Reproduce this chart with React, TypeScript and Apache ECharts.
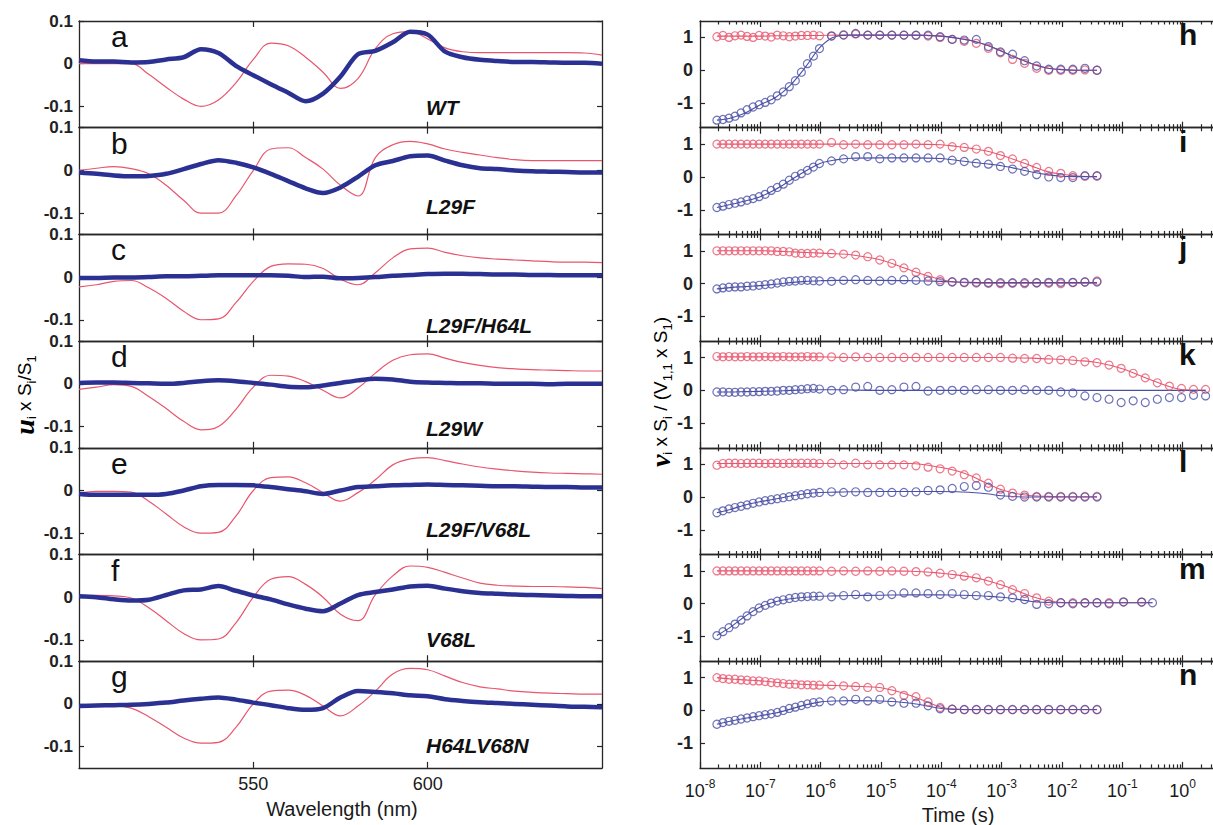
import React, { useEffect, useRef } from "react";
import * as echarts from "echarts";

// ---------------- DATA ----------------
const wavelengths = [500, 505, 510, 515, 520, 525, 530, 535, 540, 545, 550, 555, 560, 565, 570, 575, 580, 585, 590, 595, 600, 605, 610, 615, 620, 625, 630, 635, 640, 645, 650];
const wavelengthTicks = [550, 600];
const uTicks = [-0.1, 0, 0.1];
const leftLetters = ["a", "b", "c", "d", "e", "f", "g"];
const mutants = ["WT", "L29F", "L29F/H64L", "L29W", "L29F/V68L", "V68L", "H64LV68N"];

const redA = [0, 0, 0, 0, -0.025, -0.055, -0.083, -0.1, -0.085, -0.045, 0.01, 0.048, 0.042, 0.015, -0.02, -0.058, -0.035, 0.035, 0.07, 0.075, 0.058, 0.037, 0.028, 0.026, 0.026, 0.026, 0.026, 0.026, 0.026, 0.025, 0.02];
const blueA = [0.008, 0.005, 0.005, 0.003, 0.004, 0.01, 0.015, 0.034, 0.025, -0.005, -0.027, -0.048, -0.068, -0.088, -0.07, -0.03, 0.022, 0.03, 0.05, 0.075, 0.068, 0.028, 0.015, 0.009, 0.006, 0.004, 0.004, 0.003, 0.002, 0.002, 0.0];
const redB = [0, 0.005, 0.009, 0.004, -0.008, -0.035, -0.07, -0.1, -0.1, -0.06, 0.0, 0.05, 0.053, 0.03, 0.003, -0.035, -0.06, 0.03, 0.06, 0.068, 0.062, 0.05, 0.042, 0.036, 0.03, 0.025, 0.023, 0.023, 0.023, 0.023, 0.023];
const blueB = [-0.005, -0.008, -0.012, -0.014, -0.013, -0.008, 0.003, 0.015, 0.024, 0.018, 0.007, -0.008, -0.025, -0.042, -0.053, -0.04, -0.015, 0.012, 0.022, 0.033, 0.035, 0.023, 0.012, 0.005, 0.003, 0.0, -0.002, -0.003, -0.004, -0.005, -0.005];
const redC = [-0.023, -0.018, -0.01, -0.008, -0.025, -0.05, -0.08, -0.1, -0.098, -0.06, -0.01, 0.025, 0.031, 0.03, 0.02, -0.005, -0.018, 0.01, 0.045, 0.066, 0.068, 0.058, 0.05, 0.045, 0.042, 0.04, 0.038, 0.036, 0.035, 0.035, 0.034];
const blueC = [-0.002, -0.002, -0.001, -0.001, 0, 0.002, 0.002, 0.003, 0.004, 0.004, 0.004, 0.004, 0.003, 0, 0.001, -0.003, -0.002, 0, 0.003, 0.005, 0.007, 0.008, 0.008, 0.007, 0.006, 0.006, 0.005, 0.005, 0.004, 0.004, 0.004];
const redD = [-0.013, -0.008, -0.002, -0.006, -0.03, -0.058, -0.088, -0.108, -0.1, -0.06, -0.008, 0.02, 0.018, 0.005, -0.015, -0.033, -0.01, 0.025, 0.055, 0.068, 0.07, 0.06, 0.05, 0.043, 0.038, 0.035, 0.033, 0.032, 0.031, 0.03, 0.03];
const blueD = [0.002, 0.003, 0.003, 0.002, 0.001, 0, 0.002, 0.006, 0.008, 0.006, 0.002, -0.002, -0.007, -0.008, -0.004, 0.002, 0.008, 0.012, 0.01, 0.005, 0.003, 0.002, 0.001, 0.001, 0, 0, 0, -0.001, 0, 0, 0];
const redE = [-0.006, -0.002, -0.002, -0.004, -0.025, -0.055, -0.085, -0.1, -0.098, -0.06, 0, 0.03, 0.032, 0.018, -0.005, -0.025, -0.005, 0.025, 0.06, 0.074, 0.077, 0.07, 0.062, 0.055, 0.05, 0.046, 0.043, 0.041, 0.04, 0.039, 0.038];
const blueE = [-0.008, -0.01, -0.01, -0.01, -0.01, -0.008, 0, 0.01, 0.013, 0.013, 0.012, 0.008, 0.003, -0.002, -0.008, 0, 0.008, 0.01, 0.012, 0.013, 0.014, 0.013, 0.012, 0.011, 0.01, 0.01, 0.009, 0.008, 0.008, 0.007, 0.007];
const redF = [0.003, 0.004, 0.003, -0.002, -0.025, -0.055, -0.085, -0.1, -0.098, -0.06, 0, 0.042, 0.048, 0.03, 0, -0.04, -0.055, 0.006, 0.05, 0.073, 0.07, 0.058, 0.045, 0.033, 0.028, 0.026, 0.025, 0.025, 0.024, 0.023, 0.02];
const blueF = [0.002, 0, -0.005, -0.008, -0.006, 0.005, 0.016, 0.018, 0.026, 0.015, 0.004, -0.005, -0.017, -0.027, -0.033, -0.015, 0.005, 0.012, 0.018, 0.025, 0.027, 0.02, 0.014, 0.01, 0.008, 0.006, 0.005, 0.004, 0.003, 0.002, 0.002];
const redG = [-0.005, -0.005, -0.004, -0.01, -0.03, -0.055, -0.08, -0.092, -0.09, -0.055, 0, 0.03, 0.032, 0.02, -0.005, -0.028, -0.005, 0.03, 0.07, 0.083, 0.08, 0.065, 0.05, 0.04, 0.035, 0.03, 0.027, 0.025, 0.024, 0.023, 0.023];
const blueG = [-0.005, -0.004, -0.003, -0.002, 0, 0.003, 0.008, 0.012, 0.015, 0.01, 0.003, -0.003, -0.01, -0.014, -0.01, 0.015, 0.03, 0.028, 0.025, 0.02, 0.018, 0.011, 0.007, 0.004, 0.002, 0, -0.002, -0.004, -0.006, -0.007, -0.008];

// time values are log10(t / s)
const logTime = [-7.72, -7.62, -7.52, -7.42, -7.32, -7.22, -7.12, -7.02, -6.92, -6.82, -6.72, -6.62, -6.52, -6.42, -6.32, -6.22, -6.12, -6.02, -5.82, -5.62, -5.42, -5.22, -5.02, -4.82, -4.62, -4.42, -4.22, -4.02, -3.82, -3.62, -3.42, -3.22, -3.02, -2.82, -2.62, -2.42, -2.22, -2.02, -1.82, -1.62, -1.42];
const logTimeK = [...logTime, -1.22, -1.02, -0.82, -0.62, -0.42, -0.22, -0.02, 0.18, 0.38];
const logTimeM = [...logTime, -1.22, -0.98, -0.68, -0.5];
const fitTime = [-7.72, -7.5, -7.25, -7, -6.75, -6.5, -6.25, -6, -5.75, -5.5, -5, -4.5, -4, -3.75, -3.5, -3.25, -3, -2.75, -2.5, -2.25, -2, -1.75, -1.42];
const fitTimeK = [...fitTime, -1.0, -0.5, 0.0, 0.38];
const fitTimeM = [...fitTime, -1.0, -0.5];
const timeDecades = [-8, -7, -6, -5, -4, -3, -2, -1, 0, 1];
const timeLabelDecades = [-8, -7, -6, -5, -4, -3, -2, -1, 0];
const vTicks = [-1, 0, 1];
const rightLetters = ["h", "i", "j", "k", "l", "m", "n"];

const hRed = [1.02, 1.06, 1.0, 1.05, 1.07, 1.03, 1.0, 1.06, 1.04, 1.01, 1.07, 1.05, 1.02, 1.04, 1.06, 1.06, 1.07, 1.05, 1.05, 1.08, 1.1, 1.07, 1.07, 1.07, 1.07, 1.06, 1.04, 1.0, 0.94, 0.88, 0.82, 0.67, 0.53, 0.33, 0.21, 0.06, 0.0, 0.0, 0.0, 0.01, 0.0];
const hBlue = [-1.52, -1.5, -1.46, -1.4, -1.3, -1.2, -1.12, -1.05, -0.98, -0.9, -0.78, -0.66, -0.5, -0.32, -0.06, 0.2, 0.43, 0.66, 1.04, 1.07, 1.12, 1.07, 1.07, 1.07, 1.07, 1.07, 1.07, 1.02, 0.94, 0.92, 0.94, 0.72, 0.56, 0.49, 0.29, 0.13, 0.03, 0.03, 0.03, 0.06, 0.0];
const hRedFit = [1.04, 1.04, 1.04, 1.04, 1.05, 1.05, 1.06, 1.06, 1.07, 1.07, 1.07, 1.07, 1.04, 0.98, 0.9, 0.77, 0.58, 0.38, 0.2, 0.07, 0.02, 0, 0];
const hBlueFit = [-1.52, -1.46, -1.3, -1.05, -0.83, -0.45, 0.1, 0.72, 1.03, 1.07, 1.07, 1.07, 1.04, 0.98, 0.9, 0.77, 0.58, 0.38, 0.2, 0.07, 0.02, 0, 0];

const iRed = [1, 1, 1, 1, 1, 1, 1, 1, 1, 1, 1, 1, 1, 1, 1, 1, 1, 1, 1.05, 0.98, 1.0, 0.98, 0.98, 0.98, 0.98, 1.0, 0.98, 1.0, 0.92, 0.9, 0.85, 0.78, 0.65, 0.55, 0.41, 0.29, 0.17, 0.11, 0.04, 0.02, 0.02];
const iBlue = [-0.93, -0.89, -0.84, -0.8, -0.76, -0.71, -0.66, -0.6, -0.53, -0.41, -0.32, -0.22, -0.1, 0.02, 0.1, 0.2, 0.3, 0.41, 0.49, 0.55, 0.62, 0.62, 0.55, 0.58, 0.58, 0.58, 0.58, 0.58, 0.51, 0.47, 0.42, 0.39, 0.32, 0.24, 0.17, 0.07, 0.0, -0.02, -0.02, 0.04, 0.04];
const iRedFit = [1, 1, 1, 1, 1, 1, 1, 1, 1, 1, 1, 1, 0.98, 0.93, 0.87, 0.79, 0.66, 0.5, 0.33, 0.17, 0.08, 0.03, 0.01];
const iBlueFit = [-0.93, -0.84, -0.73, -0.6, -0.38, -0.1, 0.18, 0.42, 0.52, 0.57, 0.58, 0.58, 0.56, 0.51, 0.45, 0.4, 0.34, 0.25, 0.15, 0.07, 0.02, 0.01, 0.01];

const jRed = [1.0, 1.0, 1.0, 1.0, 1.0, 1.0, 1.0, 1.0, 1.0, 1.0, 0.98, 0.98, 0.97, 0.93, 0.92, 0.92, 0.93, 0.93, 0.92, 0.9, 0.87, 0.82, 0.72, 0.62, 0.48, 0.35, 0.22, 0.12, 0.06, 0.03, 0.02, 0.01, 0.0, 0.01, 0.0, 0.02, 0.01, 0.0, 0.03, 0.05, 0.08];
const jBlue = [-0.16, -0.13, -0.11, -0.1, -0.1, -0.08, -0.07, -0.05, -0.03, -0.01, 0.02, 0.05, 0.07, 0.08, 0.1, 0.1, 0.09, 0.08, 0.07, 0.1, 0.12, 0.1, 0.08, 0.1, 0.12, 0.1, 0.08, 0.06, 0.05, 0.04, 0.04, 0.03, 0.03, 0.03, 0.03, 0.03, 0.04, 0.04, 0.04, 0.05, 0.05];
const jRedFit = [1, 1, 1, 1, 0.99, 0.97, 0.95, 0.93, 0.91, 0.88, 0.72, 0.4, 0.12, 0.05, 0.02, 0.01, 0.01, 0.01, 0.01, 0.01, 0.01, 0.01, 0.01];
const jBlueFit = [-0.16, -0.12, -0.09, -0.06, -0.02, 0.03, 0.07, 0.09, 0.1, 0.1, 0.1, 0.09, 0.07, 0.05, 0.04, 0.03, 0.03, 0.03, 0.03, 0.03, 0.03, 0.03, 0.03];

const kRed = [1.03, 1.02, 1.03, 1.02, 1.02, 1.03, 1.02, 1.02, 1.03, 1.02, 1.02, 1.03, 1.02, 1.02, 1.02, 1.03, 1.02, 1.02, 1.02, 1.0, 1.02, 1.0, 1.0, 1.0, 1.0, 1.0, 1.0, 1.0, 1.0, 1.0, 1.0, 1.0, 1.0, 0.98, 0.97, 0.97, 0.94, 0.93, 0.91, 0.87, 0.84, 0.77, 0.67, 0.52, 0.38, 0.23, 0.13, 0.06, 0.03, 0.03];
const kBlue = [-0.05, -0.05, -0.06, -0.06, -0.05, -0.05, -0.04, -0.04, -0.03, -0.03, -0.02, 0.0, 0.0, 0.02, 0.03, 0.05, 0.06, 0.04, 0.0, 0.02, 0.1, 0.12, 0.0, 0.02, 0.1, 0.12, -0.02, 0.0, 0.0, 0.0, 0.02, 0.02, 0.0, 0.0, 0.02, 0.0, 0.0, -0.05, -0.08, -0.17, -0.22, -0.27, -0.37, -0.32, -0.37, -0.27, -0.22, -0.22, -0.15, -0.17];
const kRedFit = [1.02, 1.02, 1.02, 1.02, 1.02, 1.02, 1.02, 1.02, 1.01, 1.0, 1.0, 1.0, 1.0, 1.0, 1.0, 1.0, 1.0, 0.99, 0.98, 0.96, 0.94, 0.91, 0.85, 0.66, 0.3, 0.02, 0.0];
const kBlueFit = [-0.05, -0.05, -0.04, -0.03, -0.02, 0.0, 0.01, 0.02, 0.02, 0.01, 0, 0, 0, 0, 0, 0, 0, 0, 0, 0, 0, 0, 0, 0, 0, 0, 0];

const lRed = [0.97, 1.02, 1.03, 1.03, 1.02, 1.03, 1.03, 1.03, 1.02, 1.03, 1.03, 1.02, 1.03, 1.03, 1.03, 1.03, 1.03, 1.02, 1.03, 0.98, 1.03, 0.98, 0.98, 0.98, 0.98, 0.95, 0.91, 0.86, 0.79, 0.68, 0.58, 0.42, 0.24, 0.12, 0.06, 0.02, 0.02, 0.02, 0.02, 0.02, 0.02];
const lBlue = [-0.48, -0.42, -0.36, -0.32, -0.28, -0.24, -0.19, -0.15, -0.11, -0.08, -0.05, -0.02, 0.01, 0.04, 0.07, 0.1, 0.12, 0.14, 0.16, 0.14, 0.16, 0.14, 0.14, 0.14, 0.14, 0.16, 0.2, 0.22, 0.26, 0.32, 0.35, 0.3, 0.06, 0.02, 0, 0, 0, 0, 0, 0, 0];
const lRedFit = [1.02, 1.02, 1.02, 1.02, 1.02, 1.02, 1.02, 1.02, 1.02, 1.02, 1.02, 1.02, 0.9, 0.8, 0.64, 0.42, 0.22, 0.1, 0.04, 0.02, 0.01, 0.01, 0.01];
const lBlueFit = [-0.48, -0.38, -0.24, -0.14, -0.06, 0.03, 0.1, 0.14, 0.15, 0.16, 0.17, 0.17, 0.17, 0.16, 0.14, 0.1, 0.04, 0.01, 0, 0, 0, 0, 0];

const mRed = [1, 1, 1, 1, 1, 1, 1, 1, 1, 1, 1, 1, 1, 1, 1, 1, 1, 1, 0.99, 1.0, 0.99, 1.0, 0.99, 1.0, 0.99, 0.98, 0.97, 0.93, 0.89, 0.84, 0.79, 0.69, 0.58, 0.43, 0.31, 0.18, 0.08, 0.03, 0.03, 0.02, 0.03, 0.03, 0.06, 0.05, null];
const mBlue = [-0.97, -0.85, -0.73, -0.62, -0.5, -0.37, -0.24, -0.13, -0.05, 0.02, 0.08, 0.12, 0.16, 0.19, 0.21, 0.22, 0.23, 0.23, 0.21, 0.25, 0.28, 0.21, 0.25, 0.28, 0.33, 0.33, 0.31, 0.28, 0.31, 0.28, 0.25, 0.25, 0.21, 0.18, 0.13, -0.02, 0.0, 0.03, 0.0, 0.03, 0.03, 0.0, 0.05, 0.05, 0.03];
const mRedFit = [1, 1, 1, 1, 1, 1, 1, 1, 1, 1, 1, 0.99, 0.93, 0.88, 0.81, 0.71, 0.57, 0.4, 0.22, 0.1, 0.04, 0.03, 0.03, 0.03, 0.03];
const mBlueFit = [-0.97, -0.72, -0.38, -0.1, 0.06, 0.15, 0.2, 0.23, 0.24, 0.25, 0.26, 0.27, 0.27, 0.26, 0.25, 0.23, 0.2, 0.14, 0.07, 0.04, 0.03, 0.03, 0.03, 0.03, 0.03];

const nRed = [1.0, 0.97, 0.95, 0.95, 0.93, 0.92, 0.9, 0.9, 0.88, 0.85, 0.84, 0.82, 0.8, 0.8, 0.78, 0.78, 0.77, 0.77, 0.77, 0.75, 0.73, 0.7, 0.7, 0.6, 0.46, 0.42, 0.26, 0.09, 0.04, 0.02, 0.02, 0.02, 0.02, 0.02, 0.02, 0.02, 0.02, 0.02, 0.02, 0.02, 0.02];
const nBlue = [-0.42, -0.37, -0.33, -0.3, -0.26, -0.23, -0.19, -0.16, -0.13, -0.1, -0.06, 0.0, 0.06, 0.1, 0.15, 0.2, 0.24, 0.26, 0.29, 0.29, 0.34, 0.29, 0.34, 0.26, 0.22, 0.22, 0.14, 0.05, 0.04, 0.03, 0.03, 0.03, 0.03, 0.03, 0.03, 0.03, 0.03, 0.03, 0.03, 0.03, 0.03];
const nRedFit = [1.0, 0.96, 0.93, 0.9, 0.86, 0.82, 0.79, 0.77, 0.76, 0.74, 0.69, 0.45, 0.1, 0.04, 0.02, 0.02, 0.02, 0.02, 0.02, 0.02, 0.02, 0.02, 0.02];
const nBlueFit = [-0.42, -0.33, -0.24, -0.16, -0.08, 0.04, 0.17, 0.26, 0.29, 0.3, 0.29, 0.22, 0.06, 0.03, 0.03, 0.03, 0.03, 0.03, 0.03, 0.03, 0.03, 0.03, 0.03];

const leftPanels = [
  { red: redA, blue: blueA }, { red: redB, blue: blueB }, { red: redC, blue: blueC }, { red: redD, blue: blueD },
  { red: redE, blue: blueE }, { red: redF, blue: blueF }, { red: redG, blue: blueG },
];
const rightPanels = [
  { t: logTime, red: hRed, blue: hBlue, ft: fitTime, redFit: hRedFit, blueFit: hBlueFit },
  { t: logTime, red: iRed, blue: iBlue, ft: fitTime, redFit: iRedFit, blueFit: iBlueFit },
  { t: logTime, red: jRed, blue: jBlue, ft: fitTime, redFit: jRedFit, blueFit: jBlueFit },
  { t: logTimeK, red: kRed, blue: kBlue, ft: fitTimeK, redFit: kRedFit, blueFit: kBlueFit },
  { t: logTime, red: lRed, blue: lBlue, ft: fitTime, redFit: lRedFit, blueFit: lBlueFit },
  { t: logTimeM, red: mRed, blue: mBlue, ft: fitTimeM, redFit: mRedFit, blueFit: mBlueFit },
  { t: logTime, red: nRed, blue: nBlue, ft: fitTime, redFit: nRedFit, blueFit: nBlueFit },
];

// ---------------- LAYOUT / STYLE ----------------
const FONT = "'Liberation Sans', Arial, Helvetica, sans-serif";
const SERIF = "'Liberation Serif', 'Times New Roman', serif";
const AXIS = "#262626";
const RED = "#e8566e";
const BLUE_THICK = "#2b3192";
const BLUE_PT = "#4a4fa6";
const PANEL_TOP = 21;
const PANEL_H = 106.7;
const LEFT_X = 79;
const LEFT_W = 523;
const RIGHT_X = 700;
const RIGHT_W = 543;
const mutantLabelDy = [86, 79, 91, 87, 82, 85, 84];

function buildOption() {
  const grid: any[] = [];
  const xAxis: any[] = [];
  const yAxis: any[] = [];
  const series: any[] = [];
  const graphic: any[] = [];
  const topOf = (i: number) => PANEL_TOP + i * PANEL_H;
  const line = { show: true, onZero: false, lineStyle: { color: AXIS, width: 1.3 } };
  const noLine = { show: false, onZero: false };
  const tickStyle = { color: AXIS, width: 1.2 };

  const minorTicks: number[] = [];
  for (let d = -8; d <= 0; d++) {
    for (let k = 2; k <= 9; k++) minorTicks.push(d + Math.log10(k));
  }

  leftPanels.forEach((p, i) => {
    const gi = grid.length;
    grid.push({ left: LEFT_X, top: topOf(i), width: LEFT_W, height: PANEL_H, outerBoundsMode: "none", containLabel: false });
    const last = i === leftPanels.length - 1;
    const xb = xAxis.length;
    xAxis.push({
      type: "value", gridIndex: gi, position: "bottom", min: 500, max: 650,
      axisLine: line,
      axisTick: { show: true, inside: true, length: 6, customValues: wavelengthTicks, lineStyle: tickStyle },
      axisLabel: { show: last, customValues: wavelengthTicks, fontSize: 18, color: "#1a1a1a", margin: 7, fontFamily: FONT },
      splitLine: { show: false },
    });
    xAxis.push({
      type: "value", gridIndex: gi, position: "top", min: 500, max: 650,
      axisLine: line,
      axisTick: { show: true, inside: true, length: 6, customValues: wavelengthTicks, lineStyle: tickStyle },
      axisLabel: { show: false },
      splitLine: { show: false },
    });
    const yl = yAxis.length;
    yAxis.push({
      type: "value", gridIndex: gi, position: "left", min: -0.15, max: 0.1,
      axisLine: line,
      axisTick: { show: true, inside: true, length: 5, customValues: uTicks, lineStyle: tickStyle },
      axisLabel: {
        customValues: uTicks, fontSize: 17, fontWeight: "bold", color: "#222", margin: 6, fontFamily: FONT,
        formatter: (v: number) => (v === 0 ? "0" : String(v)),
      },
      splitLine: { show: false },
    });
    yAxis.push({
      type: "value", gridIndex: gi, position: "right", min: -0.15, max: 0.1,
      axisLine: line,
      axisTick: { show: true, inside: true, length: 5, customValues: uTicks, lineStyle: tickStyle },
      axisLabel: { show: false },
      splitLine: { show: false },
    });
    series.push({
      type: "line", xAxisIndex: xb, yAxisIndex: yl, symbol: "none", smooth: 0.4, z: 2,
      lineStyle: { color: RED, width: 1.2 },
      data: wavelengths.map((w, k) => [w, p.red[k]]),
    });
    series.push({
      type: "line", xAxisIndex: xb, yAxisIndex: yl, symbol: "none", smooth: 0.3, z: 3,
      lineStyle: { color: BLUE_THICK, width: 4.5 },
      data: wavelengths.map((w, k) => [w, p.blue[k]]),
    });
    graphic.push({
      type: "text", x: 111, y: topOf(i) + 15.5, z: 10,
      style: { text: leftLetters[i], fontSize: 30, fontFamily: FONT, fill: "#111", align: "left", verticalAlign: "middle" },
    });
    graphic.push({
      type: "text", x: 426, y: topOf(i) + mutantLabelDy[i], z: 10,
      style: { text: mutants[i], fontSize: 21, fontWeight: "bold", fontStyle: "italic", fontFamily: FONT, fill: "#111", align: "left", verticalAlign: "middle" },
    });
  });

  rightPanels.forEach((p, i) => {
    const gi = grid.length;
    grid.push({ left: RIGHT_X, top: topOf(i), width: RIGHT_W, height: PANEL_H, outerBoundsMode: "none", containLabel: false });
    const last = i === rightPanels.length - 1;
    const xb = xAxis.length;
    xAxis.push({
      type: "value", gridIndex: gi, position: "bottom", min: -8, max: 1, interval: 1,
      axisLine: line,
      axisTick: { show: true, inside: true, length: 6, customValues: timeDecades, lineStyle: tickStyle },
      axisLabel: {
        show: last, customValues: timeLabelDecades, margin: 10, color: "#1a1a1a", fontFamily: FONT,
        formatter: (v: number) => `{b|10}{s|${v}}`,
        rich: {
          b: { fontSize: 18, lineHeight: 26, verticalAlign: "middle", fontFamily: FONT, color: "#1a1a1a" },
          s: { fontSize: 12, lineHeight: 12, verticalAlign: "top", fontFamily: FONT, color: "#1a1a1a" },
        },
      },
      splitLine: { show: false },
    });
    xAxis.push({
      type: "value", gridIndex: gi, position: "bottom", min: -8, max: 1,
      axisLine: noLine,
      axisTick: { show: true, inside: true, length: 3.5, customValues: minorTicks, lineStyle: tickStyle },
      axisLabel: { show: false }, splitLine: { show: false },
    });
    xAxis.push({
      type: "value", gridIndex: gi, position: "top", min: -8, max: 1,
      axisLine: line,
      axisTick: { show: true, inside: true, length: 6, customValues: timeDecades, lineStyle: tickStyle },
      axisLabel: { show: false }, splitLine: { show: false },
    });
    xAxis.push({
      type: "value", gridIndex: gi, position: "top", min: -8, max: 1,
      axisLine: noLine,
      axisTick: { show: true, inside: true, length: 3.5, customValues: minorTicks, lineStyle: tickStyle },
      axisLabel: { show: false }, splitLine: { show: false },
    });
    const yl = yAxis.length;
    yAxis.push({
      type: "value", gridIndex: gi, position: "left", min: -1.75, max: 1.5,
      axisLine: line,
      axisTick: { show: true, inside: true, length: 5, customValues: vTicks, lineStyle: tickStyle },
      axisLabel: { customValues: vTicks, fontSize: 18, fontWeight: "bold", color: "#222", margin: 7, fontFamily: FONT },
      splitLine: { show: false },
    });
    series.push({
      type: "line", xAxisIndex: xb, yAxisIndex: yl, symbol: "none", smooth: 0.35, z: 2,
      lineStyle: { color: RED, width: 1.1 },
      data: p.ft.map((t, k) => [t, p.redFit[k]]),
    });
    series.push({
      type: "line", xAxisIndex: xb, yAxisIndex: yl, symbol: "none", smooth: 0.35, z: 2,
      lineStyle: { color: BLUE_PT, width: 1.1 },
      data: p.ft.map((t, k) => [t, p.blueFit[k]]),
    });
    series.push({
      type: "scatter", xAxisIndex: xb, yAxisIndex: yl, symbol: "circle", symbolSize: 8, z: 3,
      itemStyle: { color: "rgba(0,0,0,0)", borderColor: RED, borderWidth: 1.2 },
      data: p.t.map((t, k) => [t, p.red[k]]).filter((d) => d[1] !== null && d[1] !== undefined),
    });
    series.push({
      type: "scatter", xAxisIndex: xb, yAxisIndex: yl, symbol: "circle", symbolSize: 8, z: 4,
      itemStyle: { color: "rgba(0,0,0,0)", borderColor: BLUE_PT, borderWidth: 1.2 },
      data: p.t.map((t, k) => [t, p.blue[k]]).filter((d) => d[1] !== null && d[1] !== undefined),
    });
    graphic.push({
      type: "text", x: 1179, y: topOf(i) + 13.5, z: 10,
      style: { text: rightLetters[i], fontSize: 30, fontWeight: "bold", fontFamily: FONT, fill: "#111", align: "left", verticalAlign: "middle" },
    });
  });

  // axis titles
  graphic.push({
    type: "text", x: 342, y: 809,
    style: { text: "Wavelength (nm)", fontSize: 20, fontFamily: FONT, fill: "#1a1a1a", align: "center", verticalAlign: "middle" },
  });
  graphic.push({
    type: "text", x: 958, y: 815,
    style: { text: "Time (s)", fontSize: 20, fontFamily: FONT, fill: "#1a1a1a", align: "center", verticalAlign: "middle" },
  });
  const titleRich = {
    u: { fontSize: 28, fontFamily: SERIF, fontWeight: "bold", fontStyle: "italic", lineHeight: 28, verticalAlign: "middle", color: "#1a1a1a" },
    n: { fontSize: 19, fontFamily: FONT, lineHeight: 28, verticalAlign: "middle", color: "#1a1a1a" },
    sub: { fontSize: 13, fontFamily: FONT, lineHeight: 14, verticalAlign: "bottom", color: "#1a1a1a" },
  };
  graphic.push({
    type: "text", x: 24, y: 395, rotation: Math.PI / 2,
    style: { text: "{u|u}{sub|i}{n| x S}{sub|i}{n|/S}{sub|1}", rich: titleRich, align: "center", verticalAlign: "middle" },
  });
  graphic.push({
    type: "text", x: 660, y: 392, rotation: Math.PI / 2,
    style: { text: "{u|v}{sub|i}{n| x S}{sub|i}{n| / (V}{sub|1,1}{n| x S}{sub|1}{n|)}", rich: titleRich, align: "center", verticalAlign: "middle" },
  });

  return {
    animation: false,
    backgroundColor: "#ffffff",
    textStyle: { fontFamily: FONT },
    grid, xAxis, yAxis, series, graphic,
  };
}

export default function App() {
  const ref = useRef<HTMLDivElement>(null);
  useEffect(() => {
    if (!ref.current) return;
    const chart = echarts.init(ref.current, null, { renderer: "svg" });
    chart.setOption(buildOption() as any);
    return () => chart.dispose();
  }, []);
  return <div ref={ref} style={{ position: "fixed", left: 0, top: 0, width: 1213, height: 825, background: "#fff" }} />;
}
